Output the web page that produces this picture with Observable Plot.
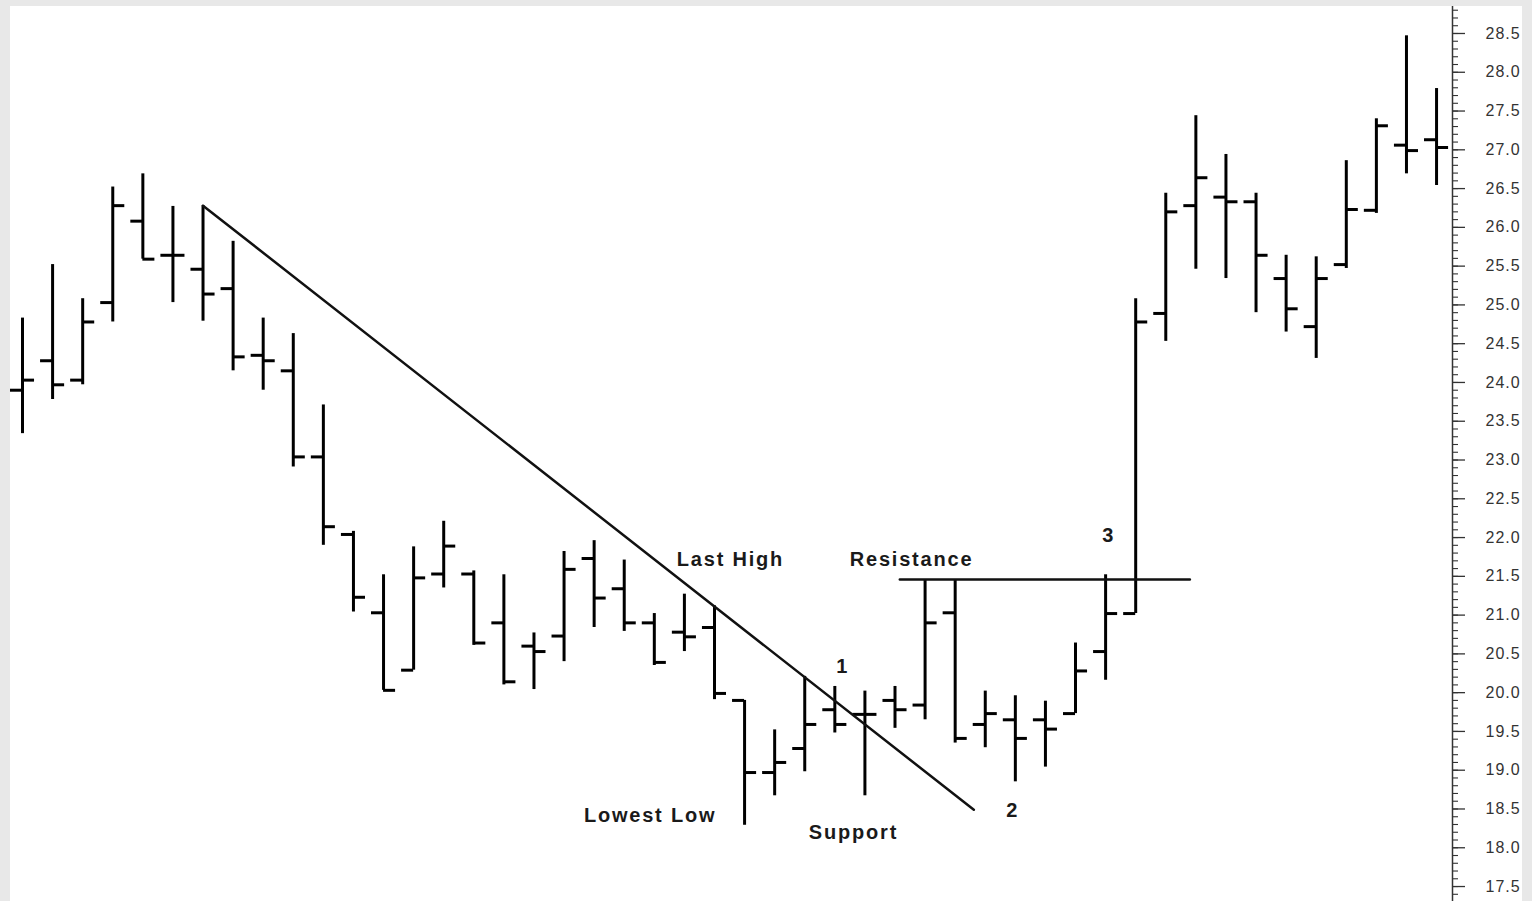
<!DOCTYPE html>
<html>
<head>
<meta charset="utf-8">
<script src="https://cdn.jsdelivr.net/npm/d3@7"></script>
<script src="https://cdn.jsdelivr.net/npm/@observablehq/plot@0.6"></script>
<style>
  html, body { margin: 0; padding: 0; background: #e8e8e8; width: 1532px; height: 901px; overflow: hidden; }
  #panel { position: absolute; left: 10px; top: 6px; width: 1512px; height: 895px; background: #ffffff; }
  #panel svg { display: block; }
</style>
</head>
<body>
<div id="panel"></div>
<script>
// ---- Data (OHLC bars) ----
const open  = [23.90, 24.28, 24.03, 25.03, 26.08, 25.64, 25.46, 25.21, 24.35, 24.15, 23.04, 22.04, 21.03, 20.29, 21.53, 21.53, 20.90, 20.60, 20.73, 21.73, 21.34, 20.90, 20.78, 20.84, 19.90, 18.97, 19.28, 19.78, 19.72, 19.90, 19.84, 21.03, 19.59, 19.65, 19.65, 19.73, 20.53, 21.02, 24.89, 26.28, 26.39, 26.33, 25.34, 24.72, 25.52, 26.22, 27.06, 27.13];
const high  = [24.83, 25.52, 25.08, 26.52, 26.69, 26.27, 26.28, 25.82, 24.83, 24.63, 23.71, 22.08, 21.52, 21.88, 22.21, 21.57, 21.52, 20.77, 21.82, 21.96, 21.71, 21.02, 21.27, 21.12, 19.90, 19.52, 20.21, 20.08, 20.02, 20.08, 21.45, 21.45, 20.02, 19.96, 19.89, 20.64, 21.52, 25.08, 26.44, 27.44, 26.94, 26.44, 25.64, 25.62, 26.86, 27.40, 28.47, 27.79];
const low   = [23.34, 23.78, 23.97, 24.78, 25.59, 25.03, 24.79, 24.15, 23.90, 22.91, 21.90, 21.04, 20.03, 20.29, 21.35, 20.61, 20.10, 20.04, 20.40, 20.84, 20.79, 20.35, 20.53, 19.91, 18.29, 18.67, 18.98, 19.48, 18.67, 19.54, 19.65, 19.35, 19.29, 18.85, 19.04, 19.73, 20.16, 21.02, 24.53, 25.46, 25.34, 24.90, 24.65, 24.31, 25.47, 26.18, 26.69, 26.54];
const close = [24.03, 23.97, 24.78, 26.28, 25.59, 25.64, 25.14, 24.33, 24.28, 23.04, 22.14, 21.23, 20.03, 21.48, 21.89, 20.64, 20.14, 20.53, 21.59, 21.22, 20.90, 20.39, 20.72, 19.99, 18.97, 19.10, 19.59, 19.59, 19.72, 19.78, 20.90, 19.41, 19.73, 19.41, 19.53, 20.28, 21.02, 24.78, 26.20, 26.64, 26.33, 25.64, 24.95, 25.34, 26.23, 27.31, 26.99, 27.03];

// Drawn lines (bar index, price)
const trendIdx   = [6, 31.62];
const trendPrice = [26.28, 18.49];
const resistIdx   = [29.16, 38.80];
const resistPrice = [21.46, 21.46];

// Annotations
const labelText  = ["Last High", "Resistance", "Lowest Low", "Support", "1", "2", "3"];
const labelIdx   = [23.53, 29.55, 20.86, 27.62, 27.26, 32.91, 36.10];
const labelPrice = [21.72, 21.72, 18.42, 18.20, 20.34, 18.48, 22.03];

// Axis tick labels
const yTicks = [17.5, 18.0, 18.5, 19.0, 19.5, 20.0, 20.5, 21.0, 21.5, 22.0, 22.5, 23.0, 23.5, 24.0, 24.5, 25.0, 25.5, 26.0, 26.5, 27.0, 27.5, 28.0, 28.5];
const yMinor = d3.range(172, 289).map(d => d / 10);

// ---- Build tables ----
const bars = open.map((o, i) => ({i, open: o, high: high[i], low: low[i], close: close[i]}));
const trend = trendIdx.map((x, k) => ({i: x, p: trendPrice[k]}));
const resist = resistIdx.map((x, k) => ({i: x, p: resistPrice[k]}));
const labels = labelText.map((t, k) => ({t, i: labelIdx[k], p: labelPrice[k]}));

const xDomain = [-0.399, 47.53];
const yDomain = [17.307, 28.848];
const tickW = 0.4;
const ink = "#000";

const chart = Plot.plot({
  width: 1512,
  height: 895,
  marginLeft: 0,
  marginRight: 70,
  marginTop: 0,
  marginBottom: 0,
  style: {background: "transparent", overflow: "visible"},
  x: {domain: xDomain, axis: null},
  y: {domain: yDomain, axis: null},
  marks: [
    Plot.ruleX([xDomain[1]], {stroke: "#333", strokeWidth: 1.5}),
    Plot.axisY(yMinor, {anchor: "right", tickSize: 5, tickFormat: () => "", color: "#333", strokeWidth: 1.1}),
    Plot.axisY(yTicks, {anchor: "right", tickSize: 12, tickPadding: 21, tickFormat: d3.format(".1f"),
      color: "#333", strokeWidth: 1.3, fontSize: 16, fontFamily: "Liberation Sans, Arial, sans-serif"}),
    Plot.ruleX(bars, {x: "i", y1: "low", y2: "high", stroke: ink, strokeWidth: 3}),
    Plot.ruleY(bars, {y: "open", x1: d => d.i - tickW, x2: "i", stroke: ink, strokeWidth: 3}),
    Plot.ruleY(bars, {y: "close", x1: "i", x2: d => d.i + tickW, stroke: ink, strokeWidth: 3}),
    Plot.line(trend, {x: "i", y: "p", stroke: "#111", strokeWidth: 2.5}),
    Plot.line(resist, {x: "i", y: "p", stroke: "#111", strokeWidth: 2.5}),
    Plot.text(labels, {x: "i", y: "p", text: "t", fill: "#1a1a1a", fontSize: 20, fontWeight: "bold",
      fontFamily: "Liberation Sans, Arial, sans-serif", textAnchor: "middle", lineAnchor: "middle"})
  ]
});
chart.querySelectorAll("text").forEach(t => {
  if (t.closest("g") && t.textContent.length) {}
});
// letter spacing to match the wide rendering of the original
chart.querySelectorAll("g[aria-label='text'] text").forEach(t => t.setAttribute("letter-spacing", "1.8"));
chart.querySelectorAll("g[aria-label='y-axis tick label'] text").forEach(t => t.setAttribute("letter-spacing", "1"));
document.getElementById("panel").appendChild(chart);
</script>
</body>
</html>
